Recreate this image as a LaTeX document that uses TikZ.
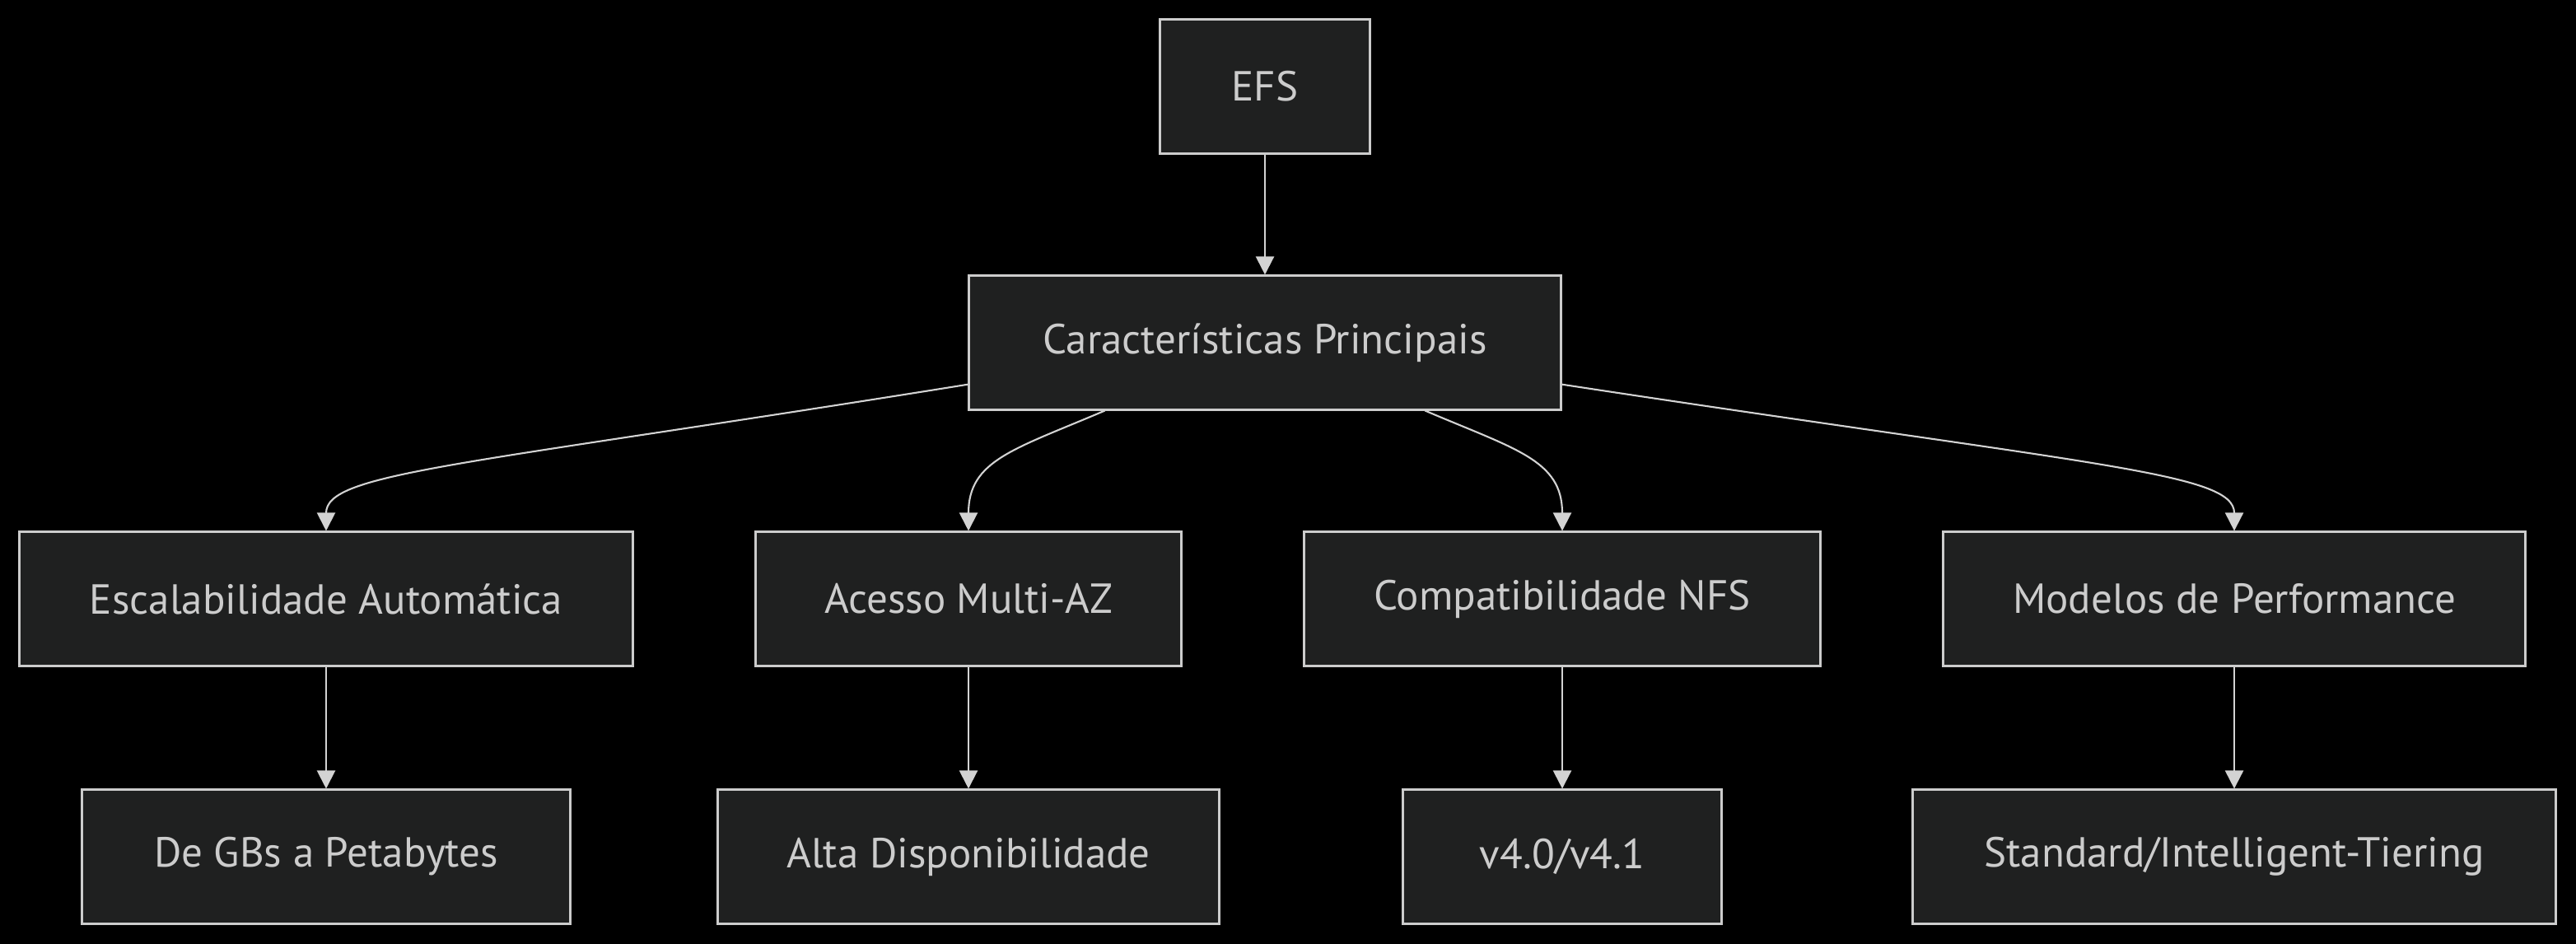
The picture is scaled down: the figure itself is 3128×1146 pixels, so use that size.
\documentclass[tikz,border=0pt]{standalone}
\usepackage{fontspec}
\setmainfont{PT Sans}
\usepackage{tikz}
\usetikzlibrary{arrows.meta}
\definecolor{boxfill}{HTML}{1F2020}
\definecolor{boxline}{HTML}{CCCCCC}
\definecolor{edgeline}{HTML}{D3D3D3}
\tikzset{
  box/.style={draw=boxline,line width=0.85pt,fill=boxfill,text=boxline,inner sep=0pt,
    minimum height=1.62cm,font=\fontsize{14.5}{17}\selectfont},
  link/.style={draw=edgeline,line width=0.6pt,-{Triangle[length=0.22cm,width=0.22cm]}}
}

\begin{document}
\begin{tikzpicture}[x=0.01cm,y=-0.01cm]
\fill[black] (0,0) rectangle (3128,1146);
\useasboundingbox (0,0) rectangle (3128,1146);
\node[box,minimum width=2.54cm] (efs) at (1536,105) {EFS};
\node[box,minimum width=7.18cm] (char) at (1536,416) {Características Principais};
\node[box,minimum width=7.44cm] (esc) at (396,727) {Escalabilidade Automática};
\node[box,minimum width=5.16cm] (ace) at (1176,727) {Acesso Multi-AZ};
\node[box,minimum width=6.26cm] (com) at (1897,727) {Compatibilidade NFS};
\node[box,minimum width=7.06cm] (mod) at (2713,727) {Modelos de Performance};
\node[box,minimum width=5.92cm] (gbs) at (396,1040) {De GBs a Petabytes};
\node[box,minimum width=6.08cm] (alta) at (1176,1040) {Alta Disponibilidade};
\node[box,minimum width=3.87cm] (ver) at (1897,1040) {v4.0/v4.1};
\node[box,minimum width=7.80cm] (std) at (2713,1040) {Standard/Intelligent-Tiering};
\draw[link] (efs.south) -- (char.north);
\draw[link] (char.188) .. controls +(-617,99) and +(0,-71) .. (esc.north);
\draw[link] (char.203) .. controls +(-110,47) and +(0,-86) .. (ace.north);
\draw[link] (char.337) .. controls +(110,47) and +(0,-86) .. (com.north);
\draw[link] (char.352) .. controls +(650,99) and +(0,-71) .. (mod.north);
\draw[link] (esc.south) -- (gbs.north);
\draw[link] (ace.south) -- (alta.north);
\draw[link] (com.south) -- (ver.north);
\draw[link] (mod.south) -- (std.north);
\end{tikzpicture}
\end{document}
